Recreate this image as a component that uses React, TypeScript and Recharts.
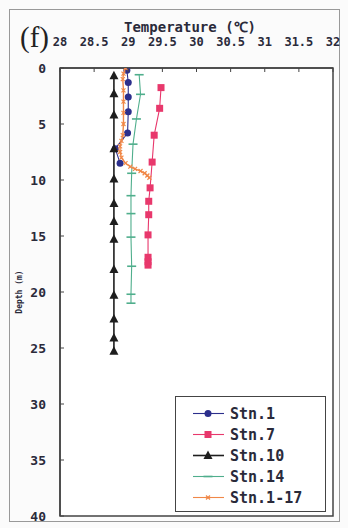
import React from "react";
import { ScatterChart, Scatter, XAxis, YAxis, ReferenceArea } from "recharts";

const xTicks = [28, 28.5, 29, 29.5, 30, 30.5, 31, 31.5, 32];
const yTicks = [0, 5, 10, 15, 20, 25, 30, 35, 40];

const stn1Temp = [28.98, 29.0, 29.0, 29.0, 28.99, 28.81, 28.88];
const stn1Depth = [0.2, 1.3, 2.6, 3.9, 5.8, 7.2, 8.5];

const stn7Temp = [29.48, 29.46, 29.38, 29.35, 29.32, 29.3, 29.3, 29.29, 29.29, 29.29, 29.29];
const stn7Depth = [1.75, 3.6, 6.0, 8.4, 10.7, 11.9, 13.1, 14.9, 16.9, 17.3, 17.6];

const stn10Temp = [28.79, 28.79, 28.79, 28.79, 28.79, 28.79, 28.79, 28.79, 28.79, 28.79, 28.79, 28.79, 28.79];
const stn10Depth = [0.7, 2.3, 4.2, 7.2, 9.9, 12.1, 13.7, 15.3, 18.0, 20.3, 22.4, 24.1, 25.3];

const stn14Temp = [29.16, 29.18, 29.12, 29.07, 29.05, 29.04, 29.04, 29.04, 29.05, 29.04, 29.04];
const stn14Depth = [0.6, 2.35, 4.55, 6.8, 9.4, 11.4, 13.0, 15.1, 17.7, 20.2, 21.0];

const stn117Temp = [28.96, 28.93, 28.92, 28.93, 28.93, 28.93, 28.93, 28.92, 28.9, 28.88, 28.88, 28.9, 28.96, 29.03, 29.1, 29.18, 29.24, 29.28, 29.31];
const stn117Depth = [0, 0.5, 1, 2, 3, 4, 5, 6, 6.5, 7, 7.5, 8, 8.5, 8.8, 9.0, 9.2, 9.4, 9.6, 9.8];

const seriesNames = ["Stn.1", "Stn.7", "Stn.10", "Stn.14", "Stn.1-17"];
const seriesColors = ["#2c2f8c", "#e8386c", "#1e1e1e", "#4fae8c", "#f08848"];

const toData = (t: number[], d: number[]) => t.map((v, i) => ({ temp: v, depth: d[i] }));

const MONO = "'DejaVu Sans Mono', monospace";

const Marker = ({ kind, cx, cy, color }: any) => {
  if (cx == null || cy == null) return null;
  switch (kind) {
    case 0:
      return <circle cx={cx} cy={cy} r={3.5} fill={color} />;
    case 1:
      return <rect x={cx - 3.5} y={cy - 3.5} width={7} height={7} fill={color} />;
    case 2:
      return <path d={`M${cx},${cy - 5} L${cx + 4.5},${cy + 3.5} L${cx - 4.5},${cy + 3.5} Z`} fill={color} />;
    case 3:
      return <line x1={cx - 4.5} x2={cx + 4.5} y1={cy} y2={cy} stroke={color} strokeWidth={1.6} />;
    default:
      return (
        <g stroke={color} strokeWidth={1.2}>
          <line x1={cx - 2} x2={cx + 2} y1={cy - 2} y2={cy + 2} />
          <line x1={cx - 2} x2={cx + 2} y1={cy + 2} y2={cy - 2} />
        </g>
      );
  }
};

const XTick = ({ x, y, payload }: any) => (
  <g>
    <line x1={x} x2={x} y1={y} y2={y + 4} stroke="#444" strokeWidth={1} />
    <text x={x} y={y - 22} textAnchor="middle" fontFamily={MONO} fontWeight="bold" fontSize={12} fill="#2a2a3a">
      {payload.value}
    </text>
  </g>
);

const YTick = ({ x, y, payload }: any) => (
  <g>
    <line x1={x} x2={x + 4} y1={y} y2={y} stroke="#444" strokeWidth={1} />
    <text x={x - 14} y={y + 5} textAnchor="end" fontFamily={MONO} fontWeight="bold" fontSize={13} fill="#2a2a3a">
      {payload.value}
    </text>
  </g>
);

const LegendBox = () => (
  <div
    style={{
      position: "absolute",
      left: 175,
      top: 396,
      width: 151,
      height: 116,
      border: "1.5px solid #444",
      background: "#fff",
      boxSizing: "border-box",
      paddingTop: 6,
    }}
  >
    {seriesNames.map((n, i) => (
      <div key={n} style={{ display: "flex", alignItems: "center", height: 21 }}>
        <svg width={52} height={21} style={{ flex: "none" }}>
          <line x1={17} x2={48} y1={10.5} y2={10.5} stroke={seriesColors[i]} strokeWidth={i === 2 ? 1.6 : 1.1} />
          <Marker kind={i} cx={32} cy={10.5} color={seriesColors[i]} />
        </svg>
        <span style={{ fontFamily: MONO, fontWeight: "bold", fontSize: 15, color: "#2a2a3a", marginLeft: 2 }}>{n}</span>
      </div>
    ))}
  </div>
);

const allSeries = [
  toData(stn1Temp, stn1Depth),
  toData(stn7Temp, stn7Depth),
  toData(stn10Temp, stn10Depth),
  toData(stn14Temp, stn14Depth),
  toData(stn117Temp, stn117Depth),
];

export default function App() {
  return (
    <div style={{ position: "absolute", left: 0, top: 0, width: 348, height: 528, background: "#fbfbfb", overflow: "hidden" }}>
      <div
        style={{
          position: "absolute",
          left: 9,
          top: 9,
          width: 331,
          height: 513,
          border: "1px solid #999",
          boxSizing: "border-box",
        }}
      />
      <ScatterChart width={348} height={528} margin={{ top: 38, right: 15, left: 0, bottom: 12 }} style={{ position: "absolute", left: 0, top: 0 }}>
        <XAxis
          type="number"
          dataKey="temp"
          orientation="top"
          domain={[28, 32]}
          ticks={xTicks}
          interval={0}
          height={30}
          tickSize={0}
          tickMargin={0}
          tickLine={false}
          tick={<XTick />}
          axisLine={{ stroke: "#444", strokeWidth: 1.5 }}
          allowDataOverflow
        />
        <YAxis
          type="number"
          dataKey="depth"
          reversed
          domain={[0, 40]}
          ticks={yTicks}
          interval={0}
          width={60}
          tickSize={0}
          tickMargin={0}
          tickLine={false}
          tick={<YTick />}
          axisLine={{ stroke: "#444", strokeWidth: 1.5 }}
          allowDataOverflow
        />
        <ReferenceArea x1={28} x2={32} y1={0} y2={40} fill="#ffffff" fillOpacity={1} stroke="#444" strokeWidth={1.5} />
        {allSeries.map((d, i) => (
          <Scatter
            key={seriesNames[i]}
            name={seriesNames[i]}
            data={d}
            fill={seriesColors[i]}
            line={{ stroke: seriesColors[i], strokeWidth: i === 2 ? 1.6 : i === 4 ? 1.4 : 1.1 }}
            lineType="joint"
            isAnimationActive={false}
            shape={(p: any) => <Marker kind={i} cx={p.cx} cy={p.cy} color={seriesColors[i]} />}
          />
        ))}
      </ScatterChart>
      <LegendBox />
      <div
        style={{
          position: "absolute",
          left: 20,
          top: 20,
          fontFamily: "'Liberation Serif', serif",
          fontSize: 29,
          color: "#222",
          lineHeight: "34px",
          pointerEvents: "none",
        }}
      >
        (f)
      </div>
      <div
        style={{
          position: "absolute",
          left: 115,
          top: 17,
          width: 150,
          textAlign: "center",
          fontFamily: MONO,
          fontWeight: "bold",
          fontSize: 14,
          color: "#2a2a3a",
          whiteSpace: "nowrap",
        }}
      >
        Temperature (℃)
      </div>
      <div
        style={{
          position: "absolute",
          left: 19,
          top: 292,
          transform: "translate(-50%, -50%) rotate(-90deg)",
          fontFamily: MONO,
          fontWeight: "bold",
          fontSize: 8,
          color: "#2a2a3a",
          whiteSpace: "nowrap",
        }}
      >
        Depth (m)
      </div>
    </div>
  );
}
